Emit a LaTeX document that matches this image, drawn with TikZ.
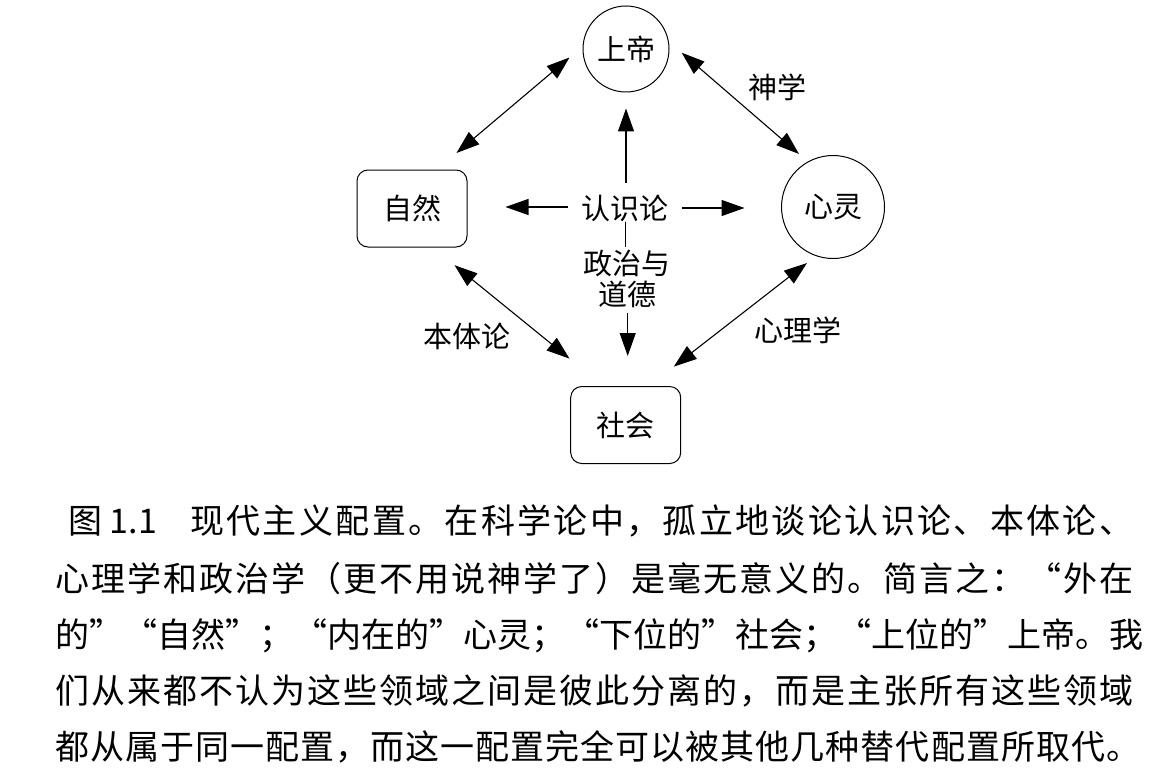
\documentclass[tikz,border=0pt]{standalone}
\usepackage{fontspec}
\setmainfont{Noto Sans CJK SC}
\newfontfamily\capfont{Noto Sans CJK SC}[RawFeature=+fwid]
\usetikzlibrary{arrows.meta,calc}
\def\gobbleone#1{}
\def\spr#1{#1\futurelet\sprnext\sprb}
\def\sprb{\ifx\sprnext\relax\expandafter\gobbleone\else\hfil\expandafter\spr\fi}
\begin{document}
\begin{tikzpicture}[x=1pt,y=-1pt,
  lbl/.style={font=\fontsize{29}{31.7}\selectfont, inner sep=0pt},
  circnode/.style={draw, circle, line width=1pt, inner sep=0pt, lbl},
  boxnode/.style={draw, rectangle, rounded corners=11pt, minimum width=110pt, minimum height=77pt, line width=1pt, lbl},
  onearr/.style={-{Triangle[length=23pt,width=16pt]}, line width=1.1pt},
  dblarr/.style={{Triangle[length=23pt,width=16pt]}-{Triangle[length=23pt,width=16pt]}, line width=1.1pt},
  plainln/.style={line width=1.1pt},
  captxt/.style={anchor=base west, inner sep=0pt, font=\capfont\fontsize{34}{40}\selectfont},
  capnum/.style={anchor=base west, inner sep=0pt, font=\fontsize{34}{40}\selectfont}]
\path[use as bounding box, fill=white] (0,0) rectangle (1172,781);
% nodes
\node[circnode, minimum size=86pt] (god) at (626,49) {上帝};
\node[circnode, minimum size=103pt] (mind) at (833,207) {心灵};
\node[boxnode] (nature) at (412,208.5) {自然};
\node[boxnode] (society) at (625.7,425) {社会};
\node[lbl] (epi) at (625,208) {认识论};
\node[lbl, align=center] (pol) at (627,279) {政治与\\道德};
\node[lbl] (theo) at (777,87) {神学};
\node[lbl] (onto) at (467,336) {本体论};
\node[lbl] (psy) at (798,330) {心理学};
% connectors
\draw[dblarr] ($(nature.north east)+(-11,-16.5)$) -- ($(god.center)+(-56.5,8.5)$);
\draw[dblarr] ($(god.center)+(55.7,3.7)$) -- ($(mind.center)+(-34,-53)$);
\draw[dblarr] ($(nature.south east)+(-13,17.7)$) -- ($(society.north west)+(-0.7,-27.4)$);
\draw[dblarr] ($(mind.center)+(-26,56)$) -- ($(society.north east)+(-7.4,-19.4)$);
\draw[onearr] ($(epi.center)+(1,-25)$) -- ($(god.south)+(0,16)$);
\draw[onearr] ($(epi.center)+(-57,-1)$) -- ($(nature.east)+(38,-1.5)$);
\draw[onearr] ($(epi.center)+(57,0)$) -- ($(mind.west)+(-36.5,1)$);
\draw[plainln] ($(epi.center)+(0.3,13.7)$) -- ($(pol.center)+(-1.7,-32.3)$);
\draw[onearr] ($(pol.center)+(0.7,33.7)$) -- ($(society.north)+(2,-30)$);
% caption
\node[capnum] (c1a) at (68,533) {图 1.1};
\node[captxt] (c1b) at (190,533) {\hbox to 943pt{\spr 现代主义配置。在科学论中，孤立地谈论认识论、本体论、\relax}};
\node[captxt] (c2) at (55,591) {\hbox to 1078pt{\spr 心理学和政治学（更不用说神学了）是毫无意义的。简言之：“外在\relax}};
\node[captxt] (c3) at (55,647) {\hbox to 1078pt{\spr 的”“自然”；“内在的”心灵；“下位的”社会；“上位的”上帝。我\relax}};
\node[captxt] (c4) at (55,703) {\hbox to 1078pt{\spr 们从来都不认为这些领域之间是彼此分离的，而是主张所有这些领域\relax}};
\node[captxt] (c5) at (55,759) {\hbox to 1085pt{\spr 都从属于同一配置，而这一配置完全可以被其他几种替代配置所取代。\relax}};
\end{tikzpicture}
\end{document}
